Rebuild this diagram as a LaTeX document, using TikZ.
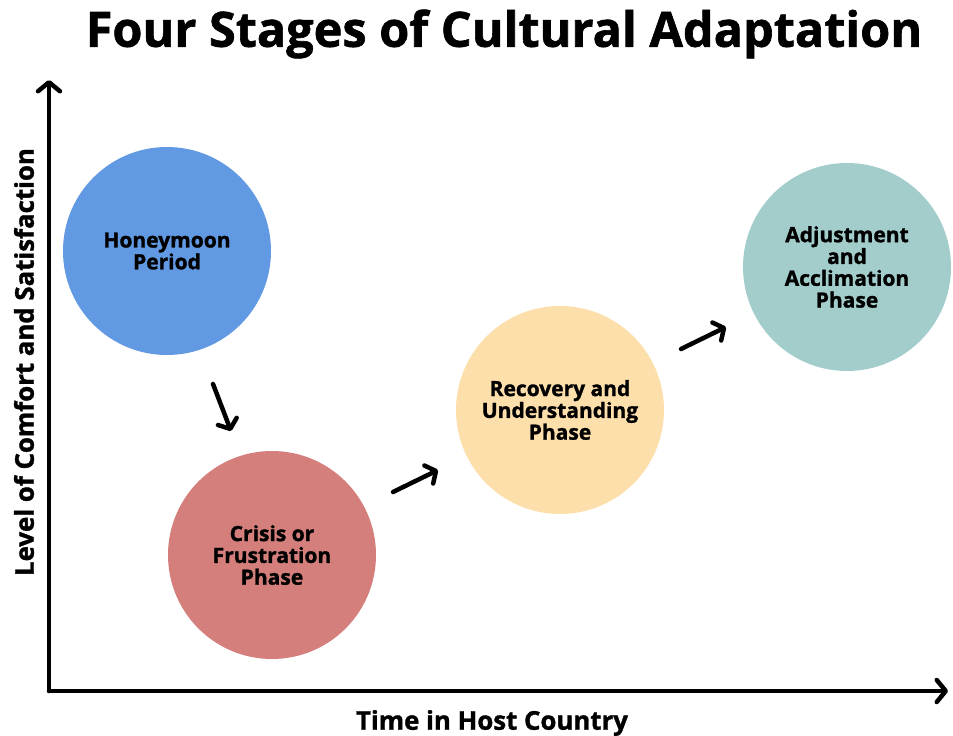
\documentclass[tikz,border=0pt]{standalone}
\usepackage{fontspec}
\setmainfont{Open Sans}[BoldFeatures={FakeBold=1.3}]
\usetikzlibrary{arrows.meta}
\definecolor{honey}{HTML}{6199E2}
\definecolor{crisis}{HTML}{D47F7B}
\definecolor{recov}{HTML}{FDDFAC}
\definecolor{adjust}{HTML}{A2CDCB}
\tikzset{
  stage/.style={circle, draw=none, minimum size=208pt, inner sep=0pt, align=center,
    font=\fontsize{21}{21.8}\selectfont\bfseries},
  axisline/.style={line width=4.5pt, line cap=round,
    -{Straight Barb[length=9pt,width=22pt,line width=4.5pt,line cap=round,round]}},
  flow/.style={line width=4.5pt, line cap=round,
    -{Straight Barb[length=8pt,width=20pt,line width=4.5pt,line cap=round,round]}},
  axislabel/.style={font=\fontsize{25.8}{28}\selectfont\bfseries}
}
\begin{document}
\begin{tikzpicture}[x=1pt,y=-1pt]
\useasboundingbox (0,0) rectangle (953,736);
% title
\node[font=\fontsize{48.6}{52}\selectfont\bfseries] (title) at (504,34) {Four Stages of Cultural Adaptation};
% axes
\coordinate (origin) at (49,691);
\coordinate (ytop) at (49,80);
\coordinate (xend) at (948,691);
\draw[axisline] (origin) -- (ytop);
\draw[axisline] (origin) -- (xend);
\node[axislabel] (xlab) at (492,723) {Time in Host Country};
\node[axislabel, rotate=90] (ylab) at (24,362) {Level of Comfort and Satisfaction};
% stages
\node[stage, fill=honey] (s1) at (167,251) {Honeymoon\\Period};
\node[stage, fill=crisis] (s2) at (272,555) {Crisis or\\Frustration\\Phase};
\node[stage, fill=recov] (s3) at (560,410) {Recovery and\\Understanding\\Phase};
\node[stage, fill=adjust] (s4) at (847,267) {Adjustment\\and\\Acclimation\\Phase};
% transitions
\coordinate (a1s) at (213,384);
\coordinate (a1e) at (231,431);
\coordinate (a2s) at (393,492);
\coordinate (a2e) at (438,470);
\coordinate (a3s) at (681,349);
\coordinate (a3e) at (726,327);
\draw[flow] (a1s) -- (a1e);
\draw[flow] (a2s) -- (a2e);
\draw[flow] (a3s) -- (a3e);
\end{tikzpicture}
\end{document}
